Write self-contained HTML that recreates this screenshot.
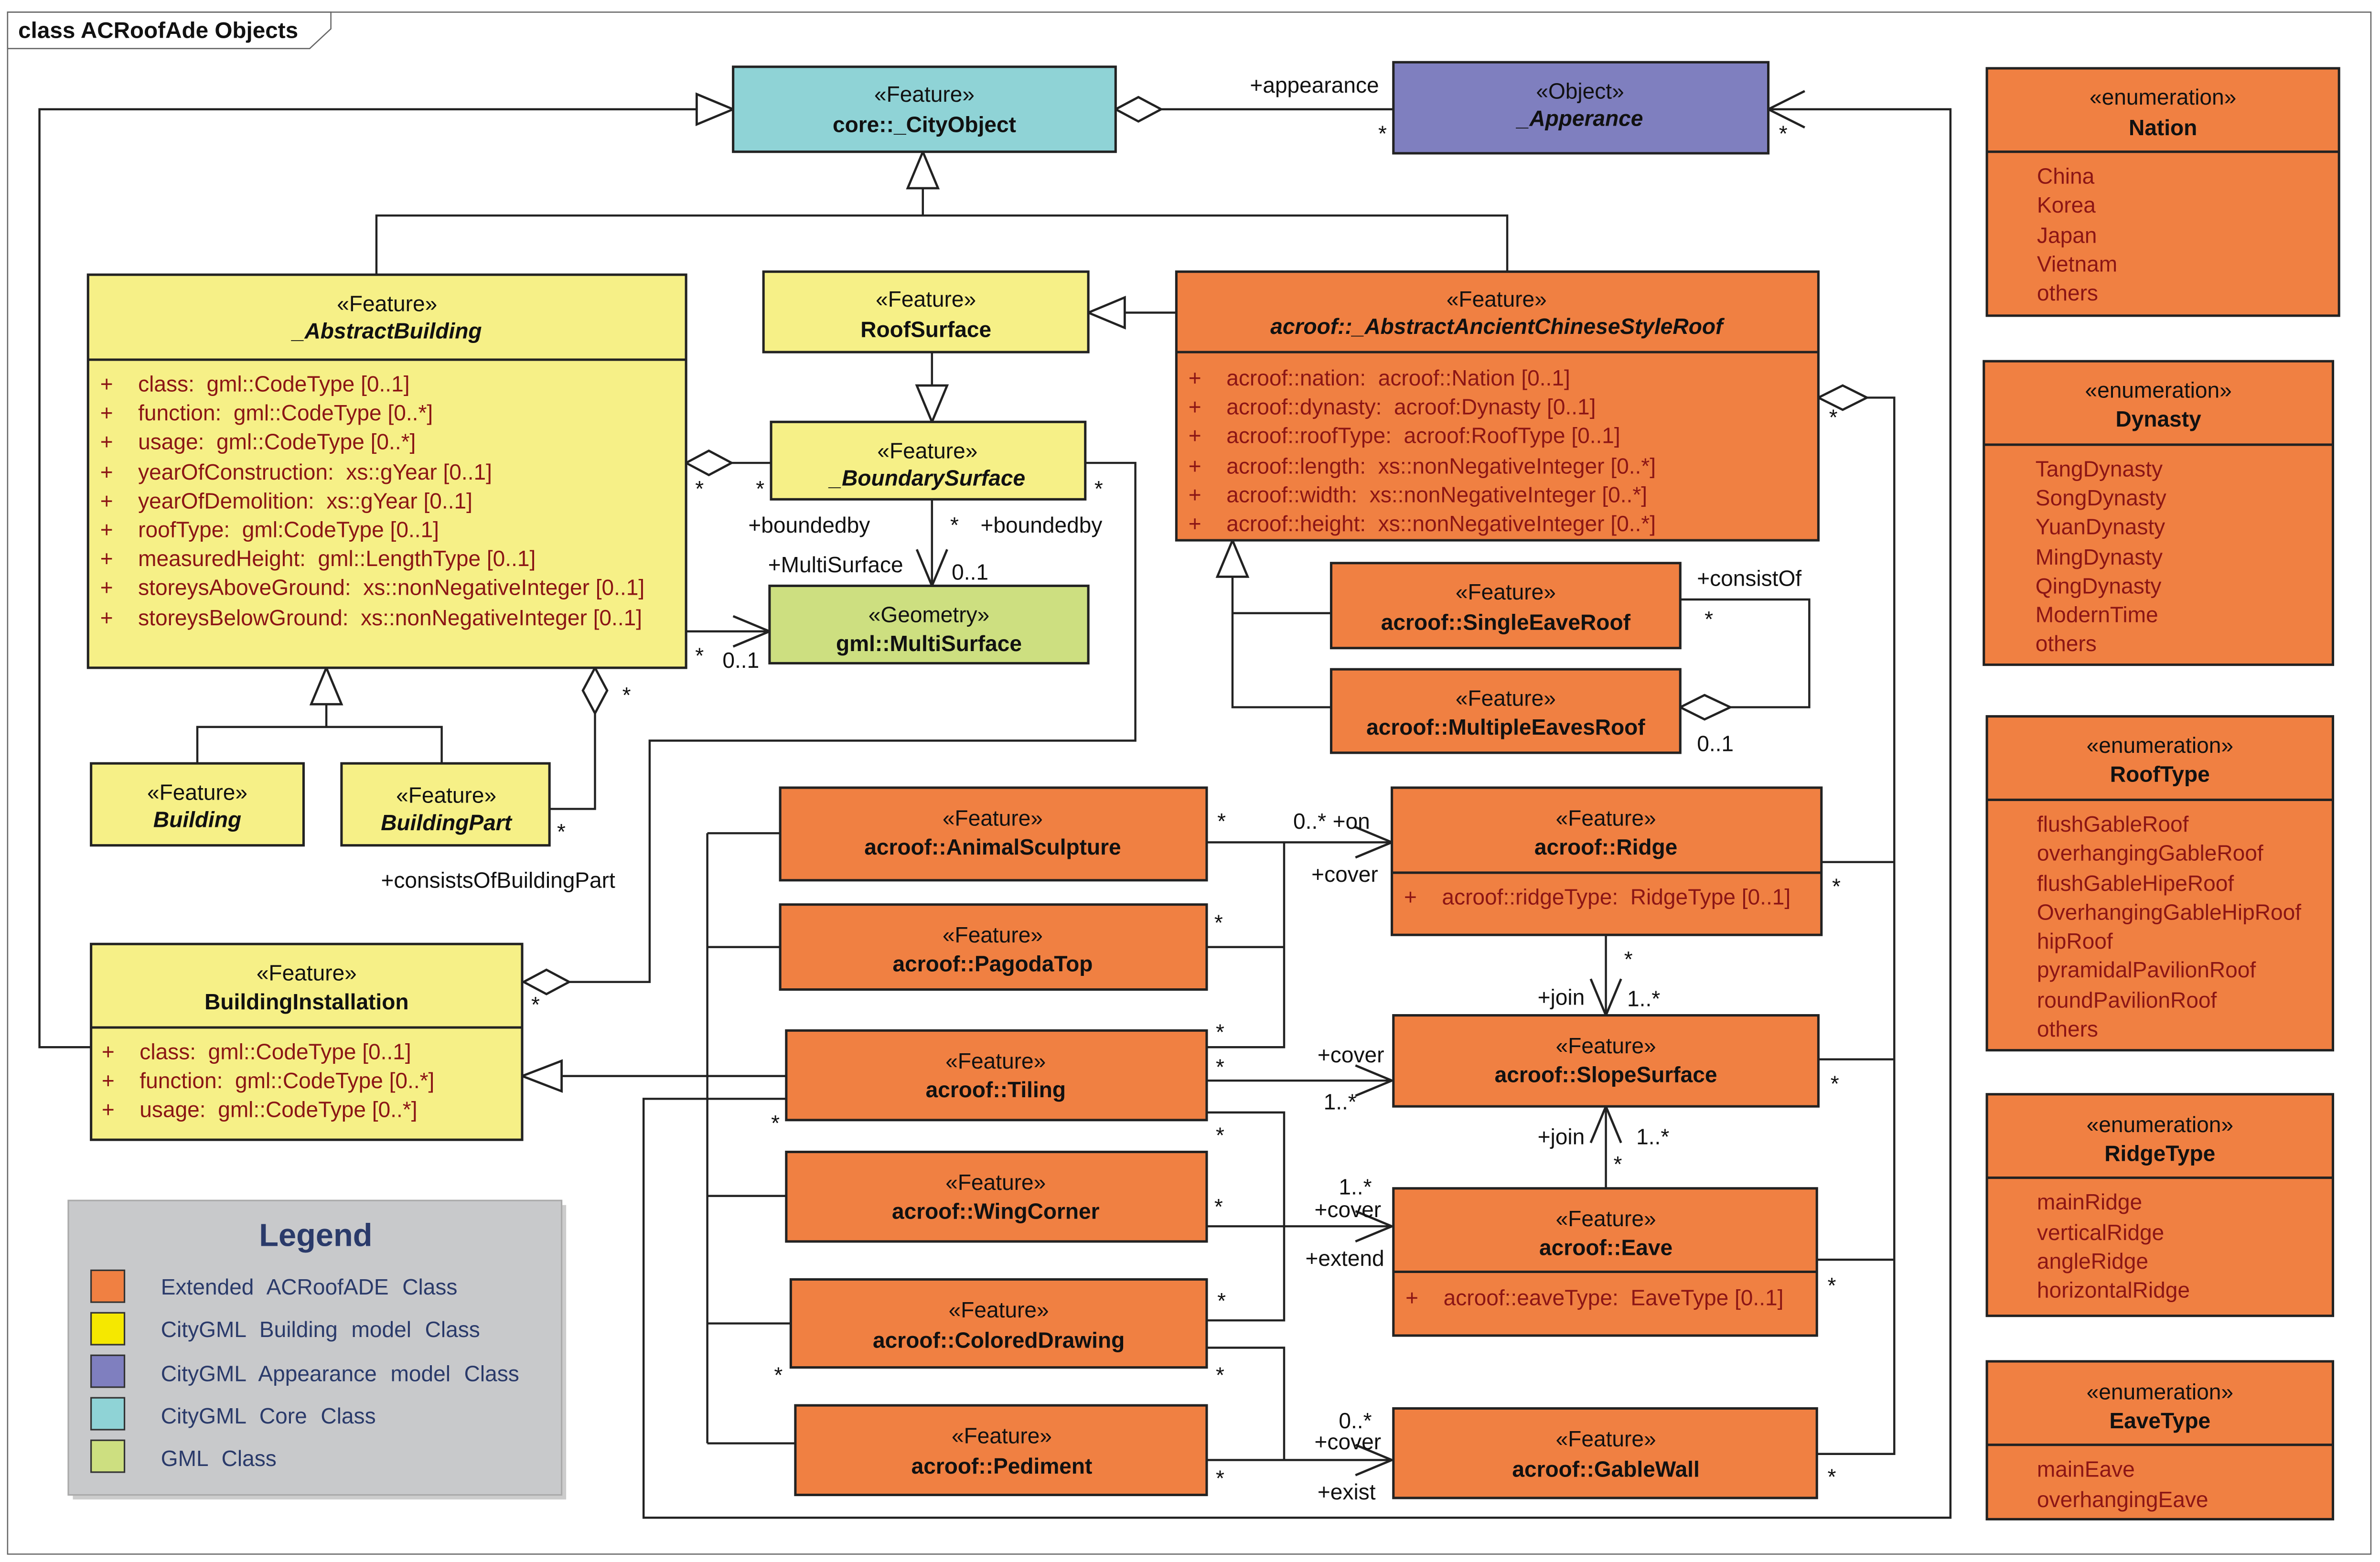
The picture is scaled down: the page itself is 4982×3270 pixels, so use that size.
<!DOCTYPE html>
<html><head><meta charset="utf-8"><style>
html,body{margin:0;padding:0;background:#fff}
svg{display:block}
text{font-family:"Liberation Sans Narrow","Liberation Sans",sans-serif;font-size:14.5px;fill:#111;white-space:pre}
.c{text-anchor:middle}
.b{font-weight:bold}
.i{font-style:italic}
.a{fill:#8b1515}
.lg{fill:#2a3a6a}
.box{stroke:#222;stroke-width:1.6}
.ln{stroke:#222;stroke-width:1.4;fill:none}
.y{fill:#f6f087}.o{fill:#f08042}.cy{fill:#8fd3d6}.pu{fill:#7f7fbf}.g{fill:#cddf80}
.hw{fill:#fff;stroke:#222;stroke-width:1.5}
</style></head><body>
<svg width="4982" height="3270" viewBox="0 0 1568 1029.2" preserveAspectRatio="none" xmlns="http://www.w3.org/2000/svg" xml:space="preserve">
<rect x="5" y="8" width="1557" height="1016" fill="#fff" stroke="#666" stroke-width="0.8"/>
<polygon points="5,8 218,8 218,19 204,32 5,32" fill="#fff" stroke="#666" stroke-width="0.8"/>
<text x="12" y="25" class="b" style="font-size:15px">class ACRoofAde Objects</text>

<g class="ln">
<polyline points="60,690 26,690 26,72 459,72"/>
<line x1="765" y1="72" x2="918" y2="72"/>
<polyline points="1165,72 1285,72 1285,1000 424,1000 424,724 518,724"/>
<polyline points="248,181 248,142 993,142 993,179"/>
<line x1="608" y1="124" x2="608" y2="142"/>
<line x1="741" y1="206" x2="775" y2="206"/>
<line x1="614" y1="232" x2="614" y2="254"/>
<line x1="482" y1="305" x2="508" y2="305"/>
<line x1="614" y1="329" x2="614" y2="386"/>
<line x1="452" y1="416" x2="507" y2="416"/>
<polyline points="715,305 748,305 748,488 428,488 428,647 375,647"/>
<polyline points="130,503 130,479 291,479 291,503"/>
<line x1="215" y1="464" x2="215" y2="479"/>
<polyline points="392,470 392,533 362,533"/>
<line x1="370" y1="709" x2="518" y2="709"/>
<polyline points="877,466 812,466 812,380"/>
<line x1="812" y1="404" x2="877" y2="404"/>
<polyline points="1107,395 1192,395 1192,466 1140,466"/>
<polyline points="1230,262 1248,262 1248,958 1197,958"/>
<line x1="1248" y1="568" x2="1200" y2="568"/>
<line x1="1248" y1="698" x2="1198" y2="698"/>
<line x1="1248" y1="830" x2="1197" y2="830"/>
<line x1="1058" y1="616" x2="1058" y2="669"/>
<line x1="1058" y1="783" x2="1058" y2="729"/>
<line x1="466" y1="549" x2="466" y2="951"/>
<line x1="466" y1="549" x2="514" y2="549"/>
<line x1="466" y1="624" x2="514" y2="624"/>
<line x1="466" y1="788" x2="518" y2="788"/>
<line x1="466" y1="872" x2="521" y2="872"/>
<line x1="466" y1="951" x2="524" y2="951"/>
<line x1="795" y1="555" x2="917" y2="555"/>
<polyline points="795,624 846,624"/>
<polyline points="846,555 846,690 795,690"/>
<line x1="795" y1="712" x2="917" y2="712"/>
<polyline points="795,733 846,733 846,870 795,870"/>
<line x1="795" y1="808" x2="917" y2="808"/>
<polyline points="795,888 846,888 846,962"/>
<line x1="795" y1="962" x2="917" y2="962"/>
</g>
<g class="hw">
<polygon points="459,62 483,72 459,82"/>
<polygon points="735,72 750,64 765,72 750,80"/>
<polygon points="598,124 608,100 618,124"/>
<polygon points="741,196 717,206 741,216"/>
<polygon points="604,254 624,254 614,278"/>
<polygon points="452,305 467,297 482,305 467,313"/>
<polygon points="345,647 360,639 375,647 360,655"/>
<polygon points="205,464 215,440 225,464"/>
<polygon points="392,440 400,455 392,470 384,455"/>
<polygon points="370,699 344,709 370,719"/>
<polygon points="802,380 812,356 822,380"/>
<polygon points="1107,466 1123,458 1140,466 1123,474"/>
<polygon points="1198,262 1214,254 1230,262 1214,270"/>
</g>
<g class="ln" style="stroke-width:1.5">
<polyline points="1189,60 1165,72 1189,84"/>
<polyline points="604,362 614,386 624,362"/>
<polyline points="483,406 507,416 483,426"/>
<polyline points="893,545 917,555 893,565"/>
<polyline points="893,702 917,712 893,722"/>
<polyline points="893,798 917,808 893,818"/>
<polyline points="893,952 917,962 893,972"/>
<polyline points="1048,645 1058,669 1068,645"/>
<polyline points="1048,753 1058,729 1068,753"/>
</g>

<rect class="box cy" x="483" y="44" width="252" height="56"/>
<text x="609" y="67" class="c">«Feature»</text><text x="609" y="87" class="c b">core::_CityObject</text>

<rect class="box pu" x="918" y="41" width="247" height="60"/>
<text x="1041" y="65" class="c">«Object»</text><text x="1041" y="83" class="c b i">_Apperance</text>

<rect class="box o" x="1309" y="45" width="232" height="163"/><line class="box" x1="1309" y1="100" x2="1541" y2="100"/>
<text x="1425" y="69" class="c">«enumeration»</text><text x="1425" y="89" class="c b">Nation</text>
<text class="a" x="1342" y="121">China</text><text class="a" x="1342" y="140">Korea</text><text class="a" x="1342" y="160">Japan</text><text class="a" x="1342" y="179">Vietnam</text><text class="a" x="1342" y="198">others</text>

<rect class="box o" x="1307" y="238" width="230" height="200"/><line class="box" x1="1307" y1="293" x2="1537" y2="293"/>
<text x="1422" y="262" class="c">«enumeration»</text><text x="1422" y="281" class="c b">Dynasty</text>
<text class="a" x="1341" y="314">TangDynasty</text><text class="a" x="1341" y="333">SongDynasty</text><text class="a" x="1341" y="352">YuanDynasty</text><text class="a" x="1341" y="372">MingDynasty</text><text class="a" x="1341" y="391">QingDynasty</text><text class="a" x="1341" y="410">ModernTime</text><text class="a" x="1341" y="429">others</text>

<rect class="box o" x="1309" y="472" width="228" height="220"/><line class="box" x1="1309" y1="527" x2="1537" y2="527"/>
<text x="1423" y="496" class="c">«enumeration»</text><text x="1423" y="515" class="c b">RoofType</text>
<text class="a" x="1342" y="548">flushGableRoof</text><text class="a" x="1342" y="567">overhangingGableRoof</text><text class="a" x="1342" y="587">flushGableHipeRoof</text><text class="a" x="1342" y="606">OverhangingGableHipRoof</text><text class="a" x="1342" y="625">hipRoof</text><text class="a" x="1342" y="644">pyramidalPavilionRoof</text><text class="a" x="1342" y="664">roundPavilionRoof</text><text class="a" x="1342" y="683">others</text>

<rect class="box o" x="1309" y="721" width="228" height="146"/><line class="box" x1="1309" y1="776" x2="1537" y2="776"/>
<text x="1423" y="746" class="c">«enumeration»</text><text x="1423" y="765" class="c b">RidgeType</text>
<text class="a" x="1342" y="797">mainRidge</text><text class="a" x="1342" y="817">verticalRidge</text><text class="a" x="1342" y="836">angleRidge</text><text class="a" x="1342" y="855">horizontalRidge</text>

<rect class="box o" x="1309" y="897" width="228" height="104"/><line class="box" x1="1309" y1="952" x2="1537" y2="952"/>
<text x="1423" y="922" class="c">«enumeration»</text><text x="1423" y="941" class="c b">EaveType</text>
<text class="a" x="1342" y="973">mainEave</text><text class="a" x="1342" y="993">overhangingEave</text>

<rect class="box y" x="58" y="181" width="394" height="259"/><line class="box" x1="58" y1="237" x2="452" y2="237"/>
<text x="255" y="205" class="c">«Feature»</text><text x="255" y="223" class="c b i">_AbstractBuilding</text>
<text class="a" x="66" y="258">+</text><text class="a" x="91" y="258">class:  gml::CodeType [0..1]</text>
<text class="a" x="66" y="277">+</text><text class="a" x="91" y="277">function:  gml::CodeType [0..*]</text>
<text class="a" x="66" y="296">+</text><text class="a" x="91" y="296">usage:  gml::CodeType [0..*]</text>
<text class="a" x="66" y="316">+</text><text class="a" x="91" y="316">yearOfConstruction:  xs::gYear [0..1]</text>
<text class="a" x="66" y="335">+</text><text class="a" x="91" y="335">yearOfDemolition:  xs::gYear [0..1]</text>
<text class="a" x="66" y="354">+</text><text class="a" x="91" y="354">roofType:  gml:CodeType [0..1]</text>
<text class="a" x="66" y="373">+</text><text class="a" x="91" y="373">measuredHeight:  gml::LengthType [0..1]</text>
<text class="a" x="66" y="392">+</text><text class="a" x="91" y="392">storeysAboveGround:  xs::nonNegativeInteger [0..1]</text>
<text class="a" x="66" y="412">+</text><text class="a" x="91" y="412">storeysBelowGround:  xs::nonNegativeInteger [0..1]</text>

<rect class="box y" x="503" y="179" width="214" height="53"/>
<text x="610" y="202" class="c">«Feature»</text><text x="610" y="222" class="c b">RoofSurface</text>
<rect class="box y" x="508" y="278" width="207" height="51"/>
<text x="611" y="302" class="c">«Feature»</text><text x="611" y="320" class="c b i">_BoundarySurface</text>
<rect class="box g" x="507" y="386" width="210" height="51"/>
<text x="612" y="410" class="c">«Geometry»</text><text x="612" y="429" class="c b">gml::MultiSurface</text>

<rect class="box o" x="775" y="179" width="423" height="177"/><line class="box" x1="775" y1="232" x2="1198" y2="232"/>
<text x="986" y="202" class="c">«Feature»</text><text x="986" y="220" class="c b i">acroof::_AbstractAncientChineseStyleRoof</text>
<text class="a" x="783" y="254">+</text><text class="a" x="808" y="254">acroof::nation:  acroof::Nation [0..1]</text>
<text class="a" x="783" y="273">+</text><text class="a" x="808" y="273">acroof::dynasty:  acroof:Dynasty [0..1]</text>
<text class="a" x="783" y="292">+</text><text class="a" x="808" y="292">acroof::roofType:  acroof:RoofType [0..1]</text>
<text class="a" x="783" y="312">+</text><text class="a" x="808" y="312">acroof::length:  xs::nonNegativeInteger [0..*]</text>
<text class="a" x="783" y="331">+</text><text class="a" x="808" y="331">acroof::width:  xs::nonNegativeInteger [0..*]</text>
<text class="a" x="783" y="350">+</text><text class="a" x="808" y="350">acroof::height:  xs::nonNegativeInteger [0..*]</text>

<rect class="box o" x="877" y="371" width="230" height="56"/>
<text x="992" y="395" class="c">«Feature»</text><text x="992" y="415" class="c b">acroof::SingleEaveRoof</text>
<rect class="box o" x="877" y="441" width="230" height="55"/>
<text x="992" y="465" class="c">«Feature»</text><text x="992" y="484" class="c b">acroof::MultipleEavesRoof</text>

<rect class="box y" x="60" y="503" width="140" height="54"/>
<text x="130" y="527" class="c">«Feature»</text><text x="130" y="545" class="c b i">Building</text>
<rect class="box y" x="225" y="503" width="137" height="54"/>
<text x="294" y="529" class="c">«Feature»</text><text x="294" y="547" class="c b i">BuildingPart</text>

<rect class="box y" x="60" y="622" width="284" height="129"/><line class="box" x1="60" y1="677" x2="344" y2="677"/>
<text x="202" y="646" class="c">«Feature»</text><text x="202" y="665" class="c b">BuildingInstallation</text>
<text class="a" x="67" y="698">+</text><text class="a" x="92" y="698">class:  gml::CodeType [0..1]</text>
<text class="a" x="67" y="717">+</text><text class="a" x="92" y="717">function:  gml::CodeType [0..*]</text>
<text class="a" x="67" y="736">+</text><text class="a" x="92" y="736">usage:  gml::CodeType [0..*]</text>

<rect class="box o" x="514" y="519" width="281" height="61"/>
<text x="654" y="544" class="c">«Feature»</text><text x="654" y="563" class="c b">acroof::AnimalSculpture</text>
<rect class="box o" x="514" y="596" width="281" height="56"/>
<text x="654" y="621" class="c">«Feature»</text><text x="654" y="640" class="c b">acroof::PagodaTop</text>
<rect class="box o" x="518" y="679" width="277" height="59"/>
<text x="656" y="704" class="c">«Feature»</text><text x="656" y="723" class="c b">acroof::Tiling</text>
<rect class="box o" x="518" y="759" width="277" height="59"/>
<text x="656" y="784" class="c">«Feature»</text><text x="656" y="803" class="c b">acroof::WingCorner</text>
<rect class="box o" x="521" y="843" width="274" height="58"/>
<text x="658" y="868" class="c">«Feature»</text><text x="658" y="888" class="c b">acroof::ColoredDrawing</text>
<rect class="box o" x="524" y="926" width="271" height="59"/>
<text x="660" y="951" class="c">«Feature»</text><text x="660" y="971" class="c b">acroof::Pediment</text>

<rect class="box o" x="917" y="519" width="283" height="97"/><line class="box" x1="917" y1="575" x2="1200" y2="575"/>
<text x="1058" y="544" class="c">«Feature»</text><text x="1058" y="563" class="c b">acroof::Ridge</text>
<text class="a" x="925" y="596">+</text><text class="a" x="950" y="596">acroof::ridgeType:  RidgeType [0..1]</text>
<rect class="box o" x="918" y="669" width="280" height="60"/>
<text x="1058" y="694" class="c">«Feature»</text><text x="1058" y="713" class="c b">acroof::SlopeSurface</text>
<rect class="box o" x="918" y="783" width="279" height="97"/><line class="box" x1="918" y1="838" x2="1197" y2="838"/>
<text x="1058" y="808" class="c">«Feature»</text><text x="1058" y="827" class="c b">acroof::Eave</text>
<text class="a" x="926" y="860">+</text><text class="a" x="951" y="860">acroof::eaveType:  EaveType [0..1]</text>
<rect class="box o" x="918" y="928" width="279" height="59"/>
<text x="1058" y="953" class="c">«Feature»</text><text x="1058" y="973" class="c b">acroof::GableWall</text>

<g>
<text x="866" y="61" class="c">+appearance</text><text x="908" y="93">*</text><text x="1172" y="93">*</text>
<text x="458" y="327">*</text><text x="498" y="327">*</text>
<text x="493" y="351">+boundedby</text><text x="626" y="351">*</text><text x="646" y="351">+boundedby</text>
<text x="506" y="377">+MultiSurface</text><text x="627" y="382">0..1</text>
<text x="458" y="437">*</text><text x="476" y="440">0..1</text>
<text x="721" y="327">*</text><text x="410" y="463">*</text><text x="367" y="553">*</text>
<text x="350" y="667">*</text>
<text x="251" y="585">+consistsOfBuildingPart</text>
<text x="1118" y="386">+consistOf</text><text x="1123" y="413">*</text><text x="1118" y="495">0..1</text>
<text x="1205" y="280">*</text><text x="1207" y="589">*</text><text x="1206" y="719">*</text><text x="1204" y="852">*</text><text x="1204" y="978">*</text>
<text x="1070" y="637">*</text><text x="1013" y="662">+join</text><text x="1072" y="663">1..*</text>
<text x="1013" y="754">+join</text><text x="1078" y="754">1..*</text><text x="1063" y="772">*</text>
<text x="802" y="546">*</text><text x="852" y="546">0..*</text><text x="878" y="546">+on</text><text x="864" y="581">+cover</text>
<text x="800" y="613">*</text><text x="801" y="685">*</text><text x="801" y="708">*</text>
<text x="868" y="700">+cover</text><text x="872" y="731">1..*</text>
<text x="801" y="753">*</text><text x="508" y="745">*</text>
<text x="882" y="787">1..*</text><text x="866" y="802">+cover</text><text x="860" y="834">+extend</text><text x="800" y="800">*</text>
<text x="802" y="862">*</text><text x="510" y="911">*</text><text x="801" y="911">*</text>
<text x="882" y="941">0..*</text><text x="866" y="955">+cover</text><text x="868" y="988">+exist</text><text x="801" y="979">*</text>
</g>

<rect x="48" y="794" width="325" height="194" fill="#999" opacity="0.5"/>
<rect x="45" y="791" width="325" height="194" fill="#c8c9cb" stroke="#aaa" stroke-width="1"/>
<text x="208" y="821" class="c b lg" style="font-size:21px;font-family:'Liberation Sans',sans-serif">Legend</text>
<rect x="60" y="837" width="22" height="21" class="o" stroke="#333"/>
<rect x="60" y="865" width="22" height="21" fill="#f5e800" stroke="#333"/>
<rect x="60" y="893" width="22" height="21" class="pu" stroke="#333"/>
<rect x="60" y="921" width="22" height="21" class="cy" stroke="#333"/>
<rect x="60" y="949" width="22" height="21" class="g" stroke="#333"/>
<text x="106" y="853" class="lg" style="word-spacing:5px">Extended ACRoofADE Class</text>
<text x="106" y="881" class="lg" style="word-spacing:5px">CityGML Building model Class</text>
<text x="106" y="910" class="lg" style="word-spacing:5px">CityGML Appearance model Class</text>
<text x="106" y="938" class="lg" style="word-spacing:5px">CityGML Core Class</text>
<text x="106" y="966" class="lg" style="word-spacing:5px">GML Class</text>
</svg>
</body></html>
